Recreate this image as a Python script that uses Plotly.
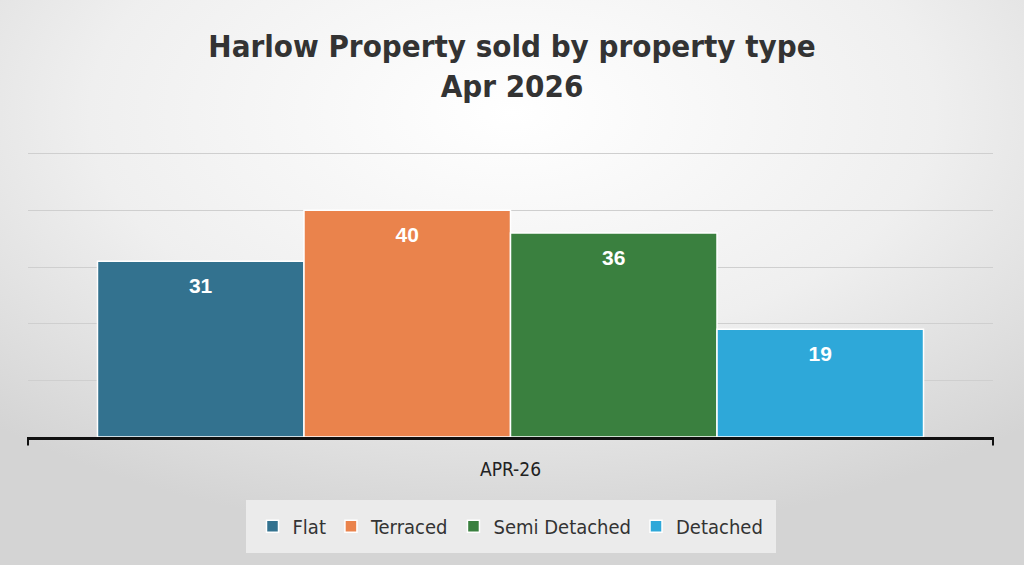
import base64
import plotly.graph_objects as go

# data
categories = ['APR-26']
series_names = ['Flat', 'Terraced', 'Semi Detached', 'Detached']
flat = [31]
terraced = [40]
semi_detached = [36]
detached = [19]
series_values = [flat, terraced, semi_detached, detached]
colors = ['#33728F', '#EA834C', '#3A803F', '#2EA8D9']

W, H = 1024, 565
ml, mr, mt, mb = 28, 31, 152, 128
pw = W - ml - mr
ph = H - mt - mb
NARROW = 'DejaVu Sans Condensed, Roboto, sans-serif'

# soft radial grey background (svg as layout image)
svg = f'''<svg xmlns="http://www.w3.org/2000/svg" width="{W}" height="{H}">
<defs><radialGradient id="g" cx="50%" cy="20%" r="75%">
<stop offset="0%" stop-color="#FFFFFF"/>
<stop offset="55%" stop-color="#EFEFEF"/>
<stop offset="100%" stop-color="#D4D4D4"/>
</radialGradient></defs>
<rect width="{W}" height="{H}" fill="url(#g)"/></svg>'''
bg_src = 'data:image/svg+xml;base64,' + base64.b64encode(svg.encode()).decode()

fig = go.Figure()
for name, vals, col in zip(series_names, series_values, colors):
    fig.add_trace(go.Bar(
        x=categories, y=vals, name=name,
        marker=dict(color=col, line=dict(color='white', width=1.5)),
        # blank small first line pushes the number down from the bar top
        text=['&nbsp;<br><span style="font-size:21px">' + str(v) + '</span>' for v in vals],
        texttemplate='%{text}',
        textposition='inside', insidetextanchor='end',
        textfont=dict(family='Liberation Sans', size=13, color='white', weight='bold'),
        hoverinfo='name+y',
    ))

fig.update_layout(
    width=W, height=H,
    margin=dict(l=ml, r=mr, t=mt, b=mb),
    paper_bgcolor='#E6E6E6',
    plot_bgcolor='rgba(0,0,0,0)',
    barmode='group', bargap=0.144, bargroupgap=0.0,
    title=dict(
        text='<b>Harlow Property sold by property type<br>Apr 2026</b>',
        x=0.5, xanchor='center', y=0.9, yanchor='middle',
        font=dict(family=NARROW, size=31, color='#333333'),
    ),
    font=dict(family=NARROW, color='#222222'),
    showlegend=True,
    legend=dict(
        orientation='h', x=0.5, xanchor='center', y=-0.22, yanchor='top',
        bgcolor='#EBEBEB', bordercolor='#EBEBEB', borderwidth=7,
        font=dict(size=20, color='#333333'),
    ),
    images=[dict(
        source=bg_src, xref='paper', yref='paper',
        x=-ml / pw, y=1 + mt / ph, sizex=W / pw, sizey=H / ph,
        xanchor='left', yanchor='top', sizing='stretch', layer='below',
    )],
    shapes=[
        dict(type='line', xref='paper', yref='paper', x0=0, x1=0, y0=0, y1=-0.03,
             line=dict(color='#111111', width=2)),
        dict(type='line', xref='paper', yref='paper', x0=1, x1=1, y0=0, y1=-0.03,
             line=dict(color='#111111', width=2)),
    ],
)
fig.update_xaxes(
    showline=True, linecolor='#111111', linewidth=3,
    tickfont=dict(family=NARROW, size=19, color='#222222'),
    ticklabelstandoff=13,
)
fig.update_yaxes(
    range=[0, 50.3], dtick=10, showticklabels=False,
    showgrid=True, gridcolor='#CFCFCF', gridwidth=1,
    zeroline=False,
)

fig.write_html('out.html', config={'displayModeBar': False},
               post_script="document.body.style.margin='0';")
